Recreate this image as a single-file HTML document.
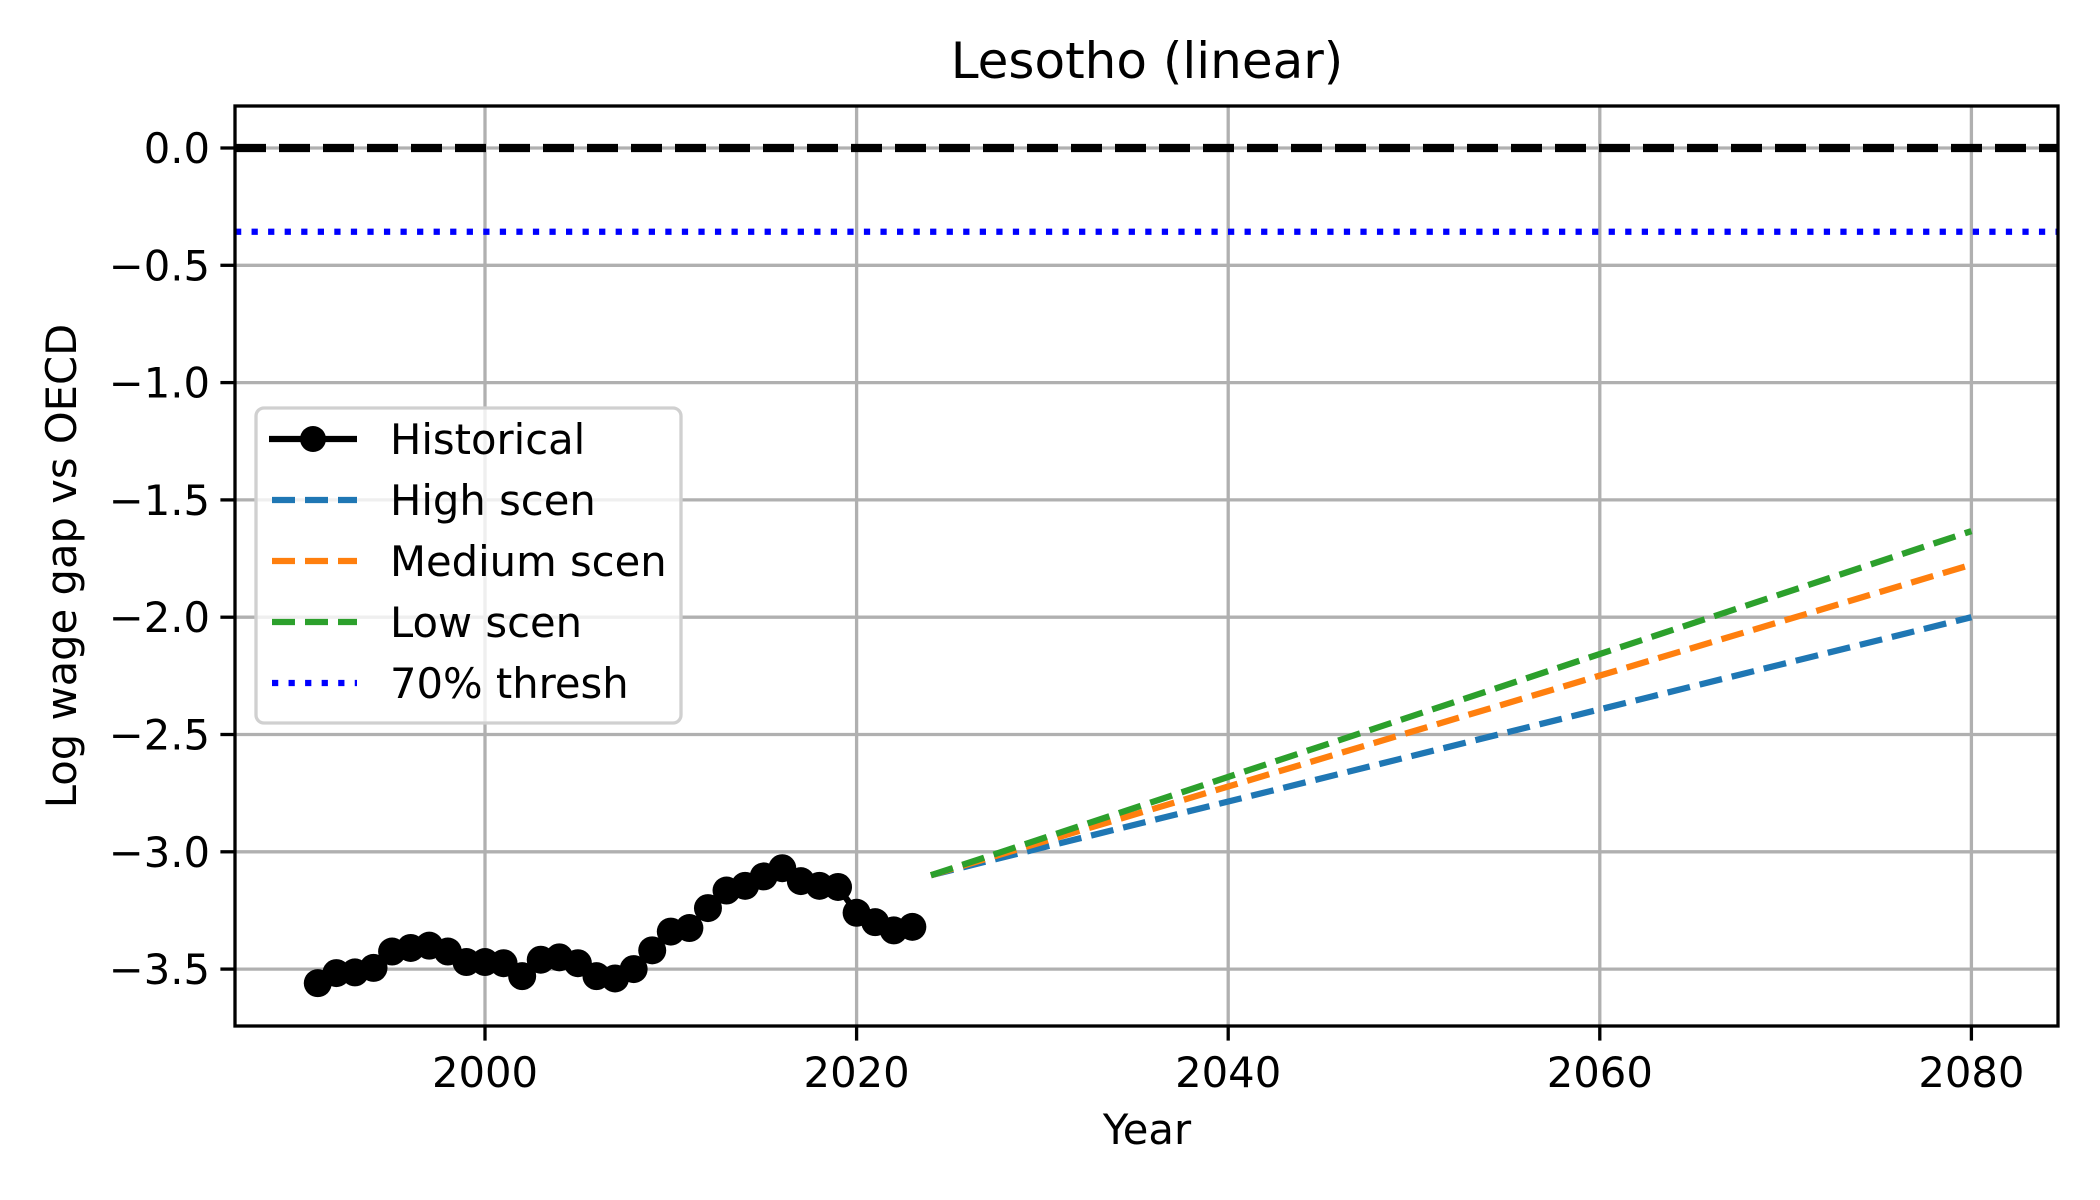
<!DOCTYPE html>
<html><head><meta charset="utf-8"><style>
html,body{margin:0;padding:0;background:#fff}
svg{display:block}
text{font-family:"DejaVu Sans","Liberation Sans",sans-serif;fill:#000}
</style></head><body>
<svg id="chart" width="2100" height="1200" viewBox="0 0 2100 1200" xmlns="http://www.w3.org/2000/svg">
<rect width="2100" height="1200" fill="#fff"/>
<g id="grid"></g>
<g id="series"></g>
<g id="axes"></g>
<text x="1147" y="78" font-size="50" text-anchor="middle">Lesotho (linear)</text>
<text x="1147" y="1144" font-size="41.7" text-anchor="middle">Year</text>
<text transform="translate(76,566) rotate(-90)" font-size="41.7" text-anchor="middle">Log wage gap vs OECD</text>
<g id="legend">
<rect x="256" y="408" width="425" height="315" rx="8" fill="#fff" fill-opacity="0.8" stroke="#d0d0d0" stroke-width="3.3"/>
<g><line x1="269" y1="439" x2="357" y2="439" stroke="#000" stroke-width="6.25"/><circle cx="313" cy="439" r="13" fill="#000"/><text x="390" y="454" font-size="41.7">Historical</text></g>
<g><line x1="272" y1="500" x2="357" y2="500" stroke="#1f77b4" stroke-width="6.25" stroke-dasharray="23,10"/><text x="390" y="515" font-size="41.7">High scen</text></g>
<g><line x1="272" y1="561" x2="357" y2="561" stroke="#ff7f0e" stroke-width="6.25" stroke-dasharray="23,10"/><text x="390" y="576" font-size="41.7">Medium scen</text></g>
<g><line x1="272" y1="622" x2="357" y2="622" stroke="#2ca02c" stroke-width="6.25" stroke-dasharray="23,10"/><text x="390" y="637" font-size="41.7">Low scen</text></g>
<g><line x1="272" y1="683" x2="357" y2="683" stroke="#0000ff" stroke-width="6.25" stroke-dasharray="6.25,10.3"/><text x="390" y="698" font-size="41.7">70% thresh</text></g>
</g>
</svg>
<script>
const histYears=[1991,1992,1993,1994,1995,1996,1997,1998,1999,2000,2001,2002,2003,2004,2005,2006,2007,2008,2009,2010,2011,2012,2013,2014,2015,2016,2017,2018,2019,2020,2021,2022,2023];
const histValues=[-3.56,-3.517,-3.514,-3.495,-3.425,-3.41,-3.40,-3.425,-3.47,-3.47,-3.475,-3.53,-3.46,-3.45,-3.475,-3.53,-3.54,-3.50,-3.42,-3.34,-3.325,-3.24,-3.165,-3.145,-3.105,-3.07,-3.125,-3.145,-3.15,-3.26,-3.30,-3.335,-3.32];
const scenYears=[2024,2080];
const highValues=[-3.10,-2.00];
const mediumValues=[-3.10,-1.776];
const lowValues=[-3.10,-1.633];
const refValue=0.0;
const threshValue=-0.357;
const xTicks=[2000,2020,2040,2060,2080];
const yTicks=[0.0,-0.5,-1.0,-1.5,-2.0,-2.5,-3.0,-3.5];
const yTickLabels=["0.0","\u22120.5","\u22121.0","\u22121.5","\u22122.0","\u22122.5","\u22123.0","\u22123.5"];

const L=235,R=2058,T=106,B=1026;
const xs=v=>485+(v-2000)*371.6/20;
const ys=v=>148-v*234.6;
const NS="http://www.w3.org/2000/svg";
function mk(tag,parent,attrs){const e=document.createElementNS(NS,tag);for(const k in attrs)e.setAttribute(k,attrs[k]);document.getElementById(parent).appendChild(e);return e;}

xTicks.forEach(t=>{
  const g=mk('line','grid',{x1:xs(t),x2:xs(t),y1:T,y2:B,stroke:'#b0b0b0','stroke-width':3.3});
  
  
  const tk=mk('line','axes',{x1:xs(t),x2:xs(t),y1:B,y2:B+14.6,stroke:'#000','stroke-width':3.3});
  
  
  const lb=mk('text','axes',{x:xs(t),y:B+61,'font-size':41.7,'text-anchor':'middle'});
  lb.textContent=String(t);
  
  
});
yTicks.forEach((t,i)=>{
  const g=mk('line','grid',{x1:L,x2:R,y1:ys(t),y2:ys(t),stroke:'#b0b0b0','stroke-width':3.3});
  
  
  const tk=mk('line','axes',{x1:L-14.6,x2:L,y1:ys(t),y2:ys(t),stroke:'#000','stroke-width':3.3});
  
  
  const lb=mk('text','axes',{x:L-25,y:ys(t)+15,'font-size':41.7,'text-anchor':'end'});
  lb.textContent=yTickLabels[i];
  
  
});
const frame=mk('rect','axes',{x:L,y:T,width:R-L,height:B-T,fill:'none',stroke:'#000','stroke-width':3.3});



const ref=mk('line','series',{x1:L,x2:R,y1:ys(refValue),y2:ys(refValue),stroke:'#000','stroke-width':8.3,'stroke-dasharray':'31,13'});


const th=mk('line','series',{x1:L,x2:R,y1:ys(threshValue),y2:ys(threshValue),stroke:'#0000ff','stroke-width':6.25,'stroke-dasharray':'6.25,10.3'});



function scen(vals,color,name){
  const p=mk('polyline','series',{points:scenYears.map((y,i)=>xs(y)+','+ys(vals[i])).join(' '),fill:'none',stroke:color,'stroke-width':6.25,'stroke-dasharray':'23,10'});
  
  
}
scen(highValues,'#1f77b4','high-scenario-line');
scen(mediumValues,'#ff7f0e','medium-scenario-line');
scen(lowValues,'#2ca02c','low-scenario-line');

const hl=mk('polyline','series',{points:histYears.map((y,i)=>xs(y)+','+ys(histValues[i])).join(' '),fill:'none',stroke:'#000','stroke-width':6.25});


histYears.forEach((y,i)=>{
  const c=mk('circle','series',{cx:xs(y),cy:ys(histValues[i]),r:14,fill:'#000'});
  
  
});
</script>
</body></html>
